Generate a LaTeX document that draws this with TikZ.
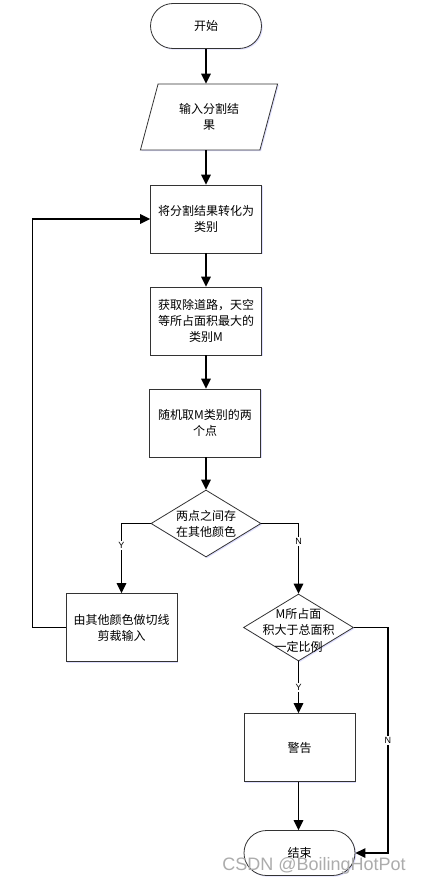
\documentclass[tikz,border=0pt]{standalone}
\usepackage{fontspec}
\newfontfamily\cjk{Noto Sans CJK SC}
\newfontfamily\lat{Liberation Sans}
\usetikzlibrary{shapes.geometric,shapes.misc,arrows.meta,shadows}
\begin{document}
\begin{tikzpicture}[x=1pt,y=-1pt,
  base/.style={draw=black!80, line width=0.8pt, fill=white,
    font=\cjk\fontsize{12}{16}\selectfont, align=center, inner sep=0pt,
    drop shadow={shadow xshift=1.2pt, shadow yshift=-1.2pt, fill=blue!25, opacity=0.5}},
  proc/.style={base, rectangle, minimum width=111pt, minimum height=68pt},
  term/.style={base, rounded rectangle, minimum width=111pt, minimum height=45pt},
  io/.style={base, trapezium, trapezium left angle=69, trapezium right angle=111,
    trapezium stretches=true, minimum width=138pt, minimum height=66pt},
  dec/.style={base, diamond, minimum width=110pt, minimum height=67pt},
  dtxt/.style={font=\cjk\fontsize{12}{16.5}\selectfont, align=center, inner sep=0pt},
  arr/.style={-{Triangle[length=10pt,width=9.5pt]}, line width=1.5pt, black},
  lab/.style={font=\lat\fontsize{9}{9}\selectfont, fill=white, inner sep=1.5pt}
]
\fill[white] (0,0) rectangle (422,886);
\useasboundingbox (0,0) rectangle (422,886);

\node[term] (start) at (206,26) {开始};
\node[io] (in) at (209,117) {输入分割结\\果};
\node[proc] (b2) at (206,219) {将分割结果转化为\\类别};
\node[proc] (b3) at (206,321) {获取除道路，天空\\等所占面积最大的\\类别M};
\node[proc] (b4) at (205,423) {随机取M类别的两\\个点};
\node[dec] (d1) at (206,523.5) {};
\node[dtxt] (d1t) at (206,524) {两点之间存\\在其他颜色};
\node[proc] (b5) at (121.5,627.5) {由其他颜色做切线\\剪裁输入};
\node[dec] (d2) at (298.5,627.5) {};
\node[dtxt] (d2t) at (298.5,630) {M所占面\\积大于总面积\\一定比例};
\node[proc] (b6) at (299.5,747.5) {警告};
\node[term] (end) at (299.5,853) {结束};

\draw[arr] (start.south) -- (start |- in.north);
\draw[arr] (b2.north |- in.south) -- (b2.north);
\draw[arr] (b2.south) -- (b3.north);
\draw[arr] (b3.south) -- (b3.south |- b4.north);
\draw[arr] (b3.south |- b4.south) -- (b3.south |- d1.north);
\draw[arr] (d1.west) -| node[lab, pos=0.66] {Y} (b5.north);
\draw[arr] (d1.east) -| node[lab, pos=0.63] {N} (d2.north);
\draw[arr] (b5.west) -- ++(-33,0) |- (b2.west);
\draw[arr] (d2.south) -- node[lab] {Y} (d2.south |- b6.north);
\draw[arr] (d2.south |- b6.south) -- (d2.south |- end.north);
\draw[arr] (d2.east) -- ++(34,0) |- node[lab, pos=0.25] {N} (end.east);

\node[font=\lat\fontsize{18}{18}\selectfont, text=gray!65] (wm) at (314,866) {CSDN @BoilingHotPot};
\end{tikzpicture}
\end{document}
